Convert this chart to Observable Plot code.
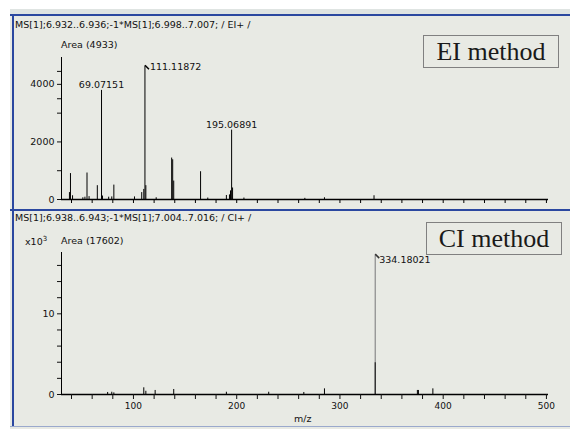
<!DOCTYPE html>
<html><head><meta charset="utf-8">
<script src="https://cdn.jsdelivr.net/npm/d3@7"></script>
<script src="https://cdn.jsdelivr.net/npm/@observablehq/plot@0.6"></script>
<style>
body{margin:0;background:#fff;}
#wrap{position:relative;width:570px;height:429px;overflow:hidden;background:#fff;font-family:"DejaVu Sans",sans-serif;color:#111;}
.abs{position:absolute;}
.bg{left:10px;top:9px;width:560px;height:420px;background:#e8eae4;}
.strip{left:10px;top:9px;width:560px;height:5px;background:#dfe4e2;}
.blueH{left:10px;width:560px;height:2px;background:#2b48a0;}
.blueV{left:12px;top:14px;width:2px;height:413px;background:#2b48a0;}
.botline{left:10px;top:426px;width:560px;height:1px;background:#9aa9cc;}
.hdr{font-size:9.5px;line-height:1;white-space:nowrap;}
.box{border:1px solid #808080;font-family:"Liberation Serif","Times New Roman",serif;font-size:26px;line-height:31px;text-align:center;box-sizing:border-box;color:#1a1a1a;}
svg{position:absolute;left:0;background:transparent;overflow:visible;}
</style></head>
<body>
<div id="wrap">
  <div class="abs bg"></div>
  <div class="abs strip"></div>
  <div class="abs blueH" style="top:14px"></div>
  <div class="abs blueH" style="top:209px"></div>
  <div class="abs blueV"></div>
  <div class="abs botline"></div>
  <div id="topPanel" class="abs" style="left:0;top:16px;width:570px;height:193px"></div>
  <div id="botPanel" class="abs" style="left:0;top:211px;width:570px;height:218px"></div>
  <div class="abs hdr" style="left:15px;top:20px">MS[1];6.932..6.936;-1*MS[1];6.998..7.007; / EI+ /</div>
  <div class="abs hdr" style="left:61px;top:40px">Area (4933)</div>
  <div class="abs hdr" style="left:15px;top:213px">MS[1];6.938..6.943;-1*MS[1];7.004..7.016; / CI+ /</div>
  <div class="abs hdr" style="left:25px;top:236px">x10<sup style="font-size:7px;vertical-align:4px">3</sup></div>
  <div class="abs hdr" style="left:61px;top:236px">Area (17602)</div>
  <div class="abs hdr" style="left:294px;top:414px">m/z</div>
  <div class="abs box" style="left:423px;top:35px;width:136px;height:33px">EI method</div>
  <div class="abs box" style="left:426px;top:222px;width:136px;height:33px">CI method</div>
</div>
<script>
// ---- data ----
const xDomain = [30.3, 502];
const xTicks = d3.range(40, 501, 20);
const xLabels = [100, 200, 300, 400, 500];

// EI spectrum
const eiMz  = [38, 39, 41, 51, 53, 55, 57, 65, 69.07151, 70, 76, 79, 81, 101, 108, 110, 111.11872, 112, 122, 137, 138, 139, 165, 172, 190, 193, 194, 195.06891, 196, 207, 266, 285, 333];
const eiInt = [240, 900, 130, 60, 80, 920, 100, 480, 3790, 120, 80, 90, 500, 90, 240, 350, 4632, 480, 60, 1440, 1380, 640, 965, 50, 140, 160, 300, 2410, 400, 50, 40, 60, 130];
const eiYMax = 4933;
const eiYTicks = [0, 1000, 2000, 3000, 3500, 4000, 4450];
const eiYLabels = [0, 2000, 4000];
const eiLabelsAbove = ["69.07151", "195.06891"];
const eiLabelsSide = ["111.11872"];

// CI spectrum (x10^3)
const ciMz  = [75, 79, 81, 110, 112, 121, 139, 190, 231, 265, 285, 375, 376, 390];
const ciInt = [0.25, 0.28, 0.2, 0.83, 0.4, 0.5, 0.62, 0.28, 0.28, 0.25, 0.7, 0.5, 0.5, 0.7];
const ciMainMz = [334.18021];
const ciMainInt = [17.28];
const ciMainInner = [3.95];
const ciYMax = 17.602;
const ciYTicks = [0, 2, 4, 6, 8, 10, 12, 14, 16];
const ciYLabels = [0, 10];
const ciLabelsSide = ["334.18021"];

// ---- build ----
const ei = eiMz.map((mz, i) => ({mz, int: eiInt[i]}));
const lab = (arr, mzs, ints) => arr.map(t => ({text: t, mz: +t, int: ints[mzs.indexOf(+t)]}));
const eiAbove = lab(eiLabelsAbove, eiMz, eiInt);
const eiSide = lab(eiLabelsSide, eiMz, eiInt);
const ci = ciMz.map((mz, i) => ({mz, int: ciInt[i]}));
const ciMain = ciMainMz.map((mz, i) => ({mz, int: ciMainInt[i], inner: ciMainInner[i]}));
const ciSide = lab(ciLabelsSide, ciMainMz, ciMainInt);

const slash = {draw(ctx) { ctx.moveTo(0, -1); ctx.lineTo(4, 3); }};
const chartStyle = {fontFamily: "DejaVu Sans, sans-serif", fontSize: "9.5px", background: "transparent", color: "#111"};

const eiChart = Plot.plot({
  width: 570, height: 193,
  marginLeft: 61, marginRight: 22, marginTop: 41, marginBottom: 10,
  style: chartStyle,
  x: {domain: xDomain},
  y: {domain: [0, eiYMax]},
  marks: [
    Plot.ruleX(ei, {x: "mz", y: "int", stroke: "#000", strokeWidth: 1}),
    Plot.ruleY([0], {stroke: "#000", strokeWidth: 1.3}),
    Plot.ruleX([xDomain[0]], {stroke: "#000", strokeWidth: 1}),
    Plot.axisX({ticks: xTicks, tickSize: 4, tickFormat: () => "", label: null, stroke: "#000"}),
    Plot.axisY({ticks: eiYTicks, tickSize: 4, tickPadding: 3, label: null, tickFormat: d => eiYLabels.includes(d) ? String(d) : "", fontSize: 9.5}),
    Plot.text(eiAbove, {x: "mz", y: "int", text: "text", lineAnchor: "bottom", dy: -2, fill: "#111"}),
    Plot.dot(eiSide, {x: "mz", y: "int", symbol: slash, stroke: "#000", fill: "none", r: 3}),
    Plot.text(eiSide, {x: "mz", y: "int", text: "text", textAnchor: "start", lineAnchor: "middle", dx: 5, dy: 1, fill: "#111"})
  ]
});
document.getElementById("topPanel").appendChild(eiChart);

const ciChart = Plot.plot({
  width: 570, height: 218,
  marginLeft: 61, marginRight: 22, marginTop: 41, marginBottom: 35,
  style: chartStyle,
  x: {domain: xDomain},
  y: {domain: [0, ciYMax]},
  marks: [
    Plot.ruleX(ci, {x: "mz", y: "int", stroke: "#000", strokeWidth: 1}),
    Plot.ruleX(ciMain, {x: "mz", y: "int", stroke: "#8a8a8a", strokeWidth: 1.2}),
    Plot.ruleX(ciMain, {x: "mz", y: "inner", stroke: "#222", strokeWidth: 1.2}),
    Plot.ruleY([0], {stroke: "#000", strokeWidth: 1.3}),
    Plot.ruleX([xDomain[0]], {stroke: "#000", strokeWidth: 1}),
    Plot.axisX({ticks: xTicks, tickSize: 5, tickPadding: 3, label: null, tickFormat: d => xLabels.includes(d) ? String(d) : "", fontSize: 9}),
    Plot.axisY({ticks: ciYTicks, tickSize: 4, tickPadding: 3, label: null, tickFormat: d => ciYLabels.includes(d) ? String(d) : "", fontSize: 9.5}),
    Plot.dot(ciSide, {x: "mz", y: "int", symbol: slash, stroke: "#333", fill: "none", r: 3}),
    Plot.text(ciSide, {x: "mz", y: "int", text: "text", textAnchor: "start", lineAnchor: "middle", dx: 4, dy: 5, fill: "#111"})
  ]
});
document.getElementById("botPanel").appendChild(ciChart);
</script>
</body></html>
